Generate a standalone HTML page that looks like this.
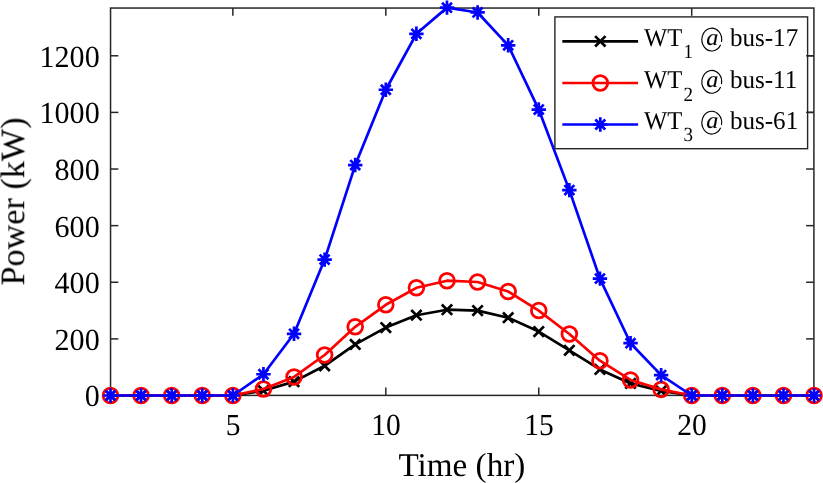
<!DOCTYPE html><html><head><meta charset="utf-8"><style>html,body{margin:0;padding:0;background:#fff;}svg{display:block;}text{font-family:"Liberation Serif",serif;fill:#000;text-rendering:geometricPrecision;}</style></head><body>
<svg width="823" height="483" viewBox="0 0 823 483">
<g stroke="#262626" stroke-width="1.5" fill="none">
<rect x="110.55" y="8.05" width="703.35" height="387.35"/>
<line x1="110.55" y1="395.50" x2="118.35" y2="395.50"/>
<line x1="813.9" y1="395.50" x2="806.10" y2="395.50"/>
<line x1="110.55" y1="338.88" x2="118.35" y2="338.88"/>
<line x1="813.9" y1="338.88" x2="806.10" y2="338.88"/>
<line x1="110.55" y1="282.26" x2="118.35" y2="282.26"/>
<line x1="813.9" y1="282.26" x2="806.10" y2="282.26"/>
<line x1="110.55" y1="225.64" x2="118.35" y2="225.64"/>
<line x1="813.9" y1="225.64" x2="806.10" y2="225.64"/>
<line x1="110.55" y1="169.02" x2="118.35" y2="169.02"/>
<line x1="813.9" y1="169.02" x2="806.10" y2="169.02"/>
<line x1="110.55" y1="112.40" x2="118.35" y2="112.40"/>
<line x1="813.9" y1="112.40" x2="806.10" y2="112.40"/>
<line x1="110.55" y1="55.78" x2="118.35" y2="55.78"/>
<line x1="813.9" y1="55.78" x2="806.10" y2="55.78"/>
<line x1="232.86" y1="395.4" x2="232.86" y2="387.60"/>
<line x1="232.86" y1="8.05" x2="232.86" y2="15.85"/>
<line x1="385.81" y1="395.4" x2="385.81" y2="387.60"/>
<line x1="385.81" y1="8.05" x2="385.81" y2="15.85"/>
<line x1="538.76" y1="395.4" x2="538.76" y2="387.60"/>
<line x1="538.76" y1="8.05" x2="538.76" y2="15.85"/>
<line x1="691.71" y1="395.4" x2="691.71" y2="387.60"/>
<line x1="691.71" y1="8.05" x2="691.71" y2="15.85"/>
</g>
<polyline points="110.50,395.50 141.09,395.50 171.68,395.50 202.27,395.50 232.86,395.50 263.45,390.69 294.04,381.63 324.63,365.77 355.22,344.40 385.81,327.61 416.40,315.21 446.99,309.72 477.58,310.57 508.17,317.70 538.76,331.60 569.35,350.29 599.94,369.45 630.53,383.41 661.12,390.97 691.71,395.50 722.30,395.50 752.89,395.50 783.48,395.50 814.07,395.50" fill="none" stroke="#000000" stroke-width="2.7" stroke-linejoin="round"/>
<g><path d="M105.30,390.30L115.70,400.70M105.30,400.70L115.70,390.30" stroke="#000000" stroke-width="2.7" fill="none"/><path d="M135.89,390.30L146.29,400.70M135.89,400.70L146.29,390.30" stroke="#000000" stroke-width="2.7" fill="none"/><path d="M166.48,390.30L176.88,400.70M166.48,400.70L176.88,390.30" stroke="#000000" stroke-width="2.7" fill="none"/><path d="M197.07,390.30L207.47,400.70M197.07,400.70L207.47,390.30" stroke="#000000" stroke-width="2.7" fill="none"/><path d="M227.66,390.30L238.06,400.70M227.66,400.70L238.06,390.30" stroke="#000000" stroke-width="2.7" fill="none"/><path d="M258.25,385.49L268.65,395.89M258.25,395.89L268.65,385.49" stroke="#000000" stroke-width="2.7" fill="none"/><path d="M288.84,376.43L299.24,386.83M288.84,386.83L299.24,376.43" stroke="#000000" stroke-width="2.7" fill="none"/><path d="M319.43,360.57L329.83,370.97M319.43,370.97L329.83,360.57" stroke="#000000" stroke-width="2.7" fill="none"/><path d="M350.02,339.20L360.42,349.60M350.02,349.60L360.42,339.20" stroke="#000000" stroke-width="2.7" fill="none"/><path d="M380.61,322.41L391.01,332.81M380.61,332.81L391.01,322.41" stroke="#000000" stroke-width="2.7" fill="none"/><path d="M411.20,310.01L421.60,320.41M411.20,320.41L421.60,310.01" stroke="#000000" stroke-width="2.7" fill="none"/><path d="M441.79,304.52L452.19,314.92M441.79,314.92L452.19,304.52" stroke="#000000" stroke-width="2.7" fill="none"/><path d="M472.38,305.37L482.78,315.77M472.38,315.77L482.78,305.37" stroke="#000000" stroke-width="2.7" fill="none"/><path d="M502.97,312.50L513.37,322.90M502.97,322.90L513.37,312.50" stroke="#000000" stroke-width="2.7" fill="none"/><path d="M533.56,326.40L543.96,336.80M533.56,336.80L543.96,326.40" stroke="#000000" stroke-width="2.7" fill="none"/><path d="M564.15,345.09L574.55,355.49M564.15,355.49L574.55,345.09" stroke="#000000" stroke-width="2.7" fill="none"/><path d="M594.74,364.25L605.14,374.65M594.74,374.65L605.14,364.25" stroke="#000000" stroke-width="2.7" fill="none"/><path d="M625.33,378.21L635.73,388.61M625.33,388.61L635.73,378.21" stroke="#000000" stroke-width="2.7" fill="none"/><path d="M655.92,385.77L666.32,396.17M655.92,396.17L666.32,385.77" stroke="#000000" stroke-width="2.7" fill="none"/><path d="M686.51,390.30L696.91,400.70M686.51,400.70L696.91,390.30" stroke="#000000" stroke-width="2.7" fill="none"/><path d="M717.10,390.30L727.50,400.70M717.10,400.70L727.50,390.30" stroke="#000000" stroke-width="2.7" fill="none"/><path d="M747.69,390.30L758.09,400.70M747.69,400.70L758.09,390.30" stroke="#000000" stroke-width="2.7" fill="none"/><path d="M778.28,390.30L788.68,400.70M778.28,400.70L788.68,390.30" stroke="#000000" stroke-width="2.7" fill="none"/><path d="M808.87,390.30L819.27,400.70M808.87,400.70L819.27,390.30" stroke="#000000" stroke-width="2.7" fill="none"/></g>
<polyline points="110.50,395.50 141.09,395.50 171.68,395.50 202.27,395.50 232.86,395.50 263.45,388.99 294.04,376.96 324.63,355.02 355.22,326.79 385.81,304.79 416.40,287.81 446.99,280.70 477.58,281.98 508.17,291.49 538.76,310.57 569.35,334.01 599.94,360.68 630.53,379.93 661.12,389.41 691.71,395.50 722.30,395.50 752.89,395.50 783.48,395.50 814.07,395.50" fill="none" stroke="#ff0000" stroke-width="2.7" stroke-linejoin="round"/>
<g><circle cx="110.50" cy="395.50" r="7.4" stroke="#ff0000" stroke-width="2.75" fill="none"/><circle cx="141.09" cy="395.50" r="7.4" stroke="#ff0000" stroke-width="2.75" fill="none"/><circle cx="171.68" cy="395.50" r="7.4" stroke="#ff0000" stroke-width="2.75" fill="none"/><circle cx="202.27" cy="395.50" r="7.4" stroke="#ff0000" stroke-width="2.75" fill="none"/><circle cx="232.86" cy="395.50" r="7.4" stroke="#ff0000" stroke-width="2.75" fill="none"/><circle cx="263.45" cy="388.99" r="7.4" stroke="#ff0000" stroke-width="2.75" fill="none"/><circle cx="294.04" cy="376.96" r="7.4" stroke="#ff0000" stroke-width="2.75" fill="none"/><circle cx="324.63" cy="355.02" r="7.4" stroke="#ff0000" stroke-width="2.75" fill="none"/><circle cx="355.22" cy="326.79" r="7.4" stroke="#ff0000" stroke-width="2.75" fill="none"/><circle cx="385.81" cy="304.79" r="7.4" stroke="#ff0000" stroke-width="2.75" fill="none"/><circle cx="416.40" cy="287.81" r="7.4" stroke="#ff0000" stroke-width="2.75" fill="none"/><circle cx="446.99" cy="280.70" r="7.4" stroke="#ff0000" stroke-width="2.75" fill="none"/><circle cx="477.58" cy="281.98" r="7.4" stroke="#ff0000" stroke-width="2.75" fill="none"/><circle cx="508.17" cy="291.49" r="7.4" stroke="#ff0000" stroke-width="2.75" fill="none"/><circle cx="538.76" cy="310.57" r="7.4" stroke="#ff0000" stroke-width="2.75" fill="none"/><circle cx="569.35" cy="334.01" r="7.4" stroke="#ff0000" stroke-width="2.75" fill="none"/><circle cx="599.94" cy="360.68" r="7.4" stroke="#ff0000" stroke-width="2.75" fill="none"/><circle cx="630.53" cy="379.93" r="7.4" stroke="#ff0000" stroke-width="2.75" fill="none"/><circle cx="661.12" cy="389.41" r="7.4" stroke="#ff0000" stroke-width="2.75" fill="none"/><circle cx="691.71" cy="395.50" r="7.4" stroke="#ff0000" stroke-width="2.75" fill="none"/><circle cx="722.30" cy="395.50" r="7.4" stroke="#ff0000" stroke-width="2.75" fill="none"/><circle cx="752.89" cy="395.50" r="7.4" stroke="#ff0000" stroke-width="2.75" fill="none"/><circle cx="783.48" cy="395.50" r="7.4" stroke="#ff0000" stroke-width="2.75" fill="none"/><circle cx="814.07" cy="395.50" r="7.4" stroke="#ff0000" stroke-width="2.75" fill="none"/></g>
<polyline points="110.50,395.50 141.09,395.50 171.68,395.50 202.27,395.50 232.86,395.50 263.45,374.27 294.04,333.78 324.63,259.61 355.22,165.06 385.81,89.75 416.40,33.81 446.99,7.65 477.58,12.47 508.17,45.31 538.76,109.57 569.35,190.11 599.94,278.58 630.53,343.21 661.12,375.12 691.71,395.50 722.30,395.50 752.89,395.50 783.48,395.50 814.07,395.50" fill="none" stroke="#0000ff" stroke-width="2.7" stroke-linejoin="round"/>
<g><path d="M103.30,395.50L117.70,395.50M110.50,388.30L110.50,402.70M105.55,390.55L115.45,400.45M105.55,400.45L115.45,390.55" stroke="#0000ff" stroke-width="2.7" fill="none"/><path d="M133.89,395.50L148.29,395.50M141.09,388.30L141.09,402.70M136.14,390.55L146.04,400.45M136.14,400.45L146.04,390.55" stroke="#0000ff" stroke-width="2.7" fill="none"/><path d="M164.48,395.50L178.88,395.50M171.68,388.30L171.68,402.70M166.73,390.55L176.63,400.45M166.73,400.45L176.63,390.55" stroke="#0000ff" stroke-width="2.7" fill="none"/><path d="M195.07,395.50L209.47,395.50M202.27,388.30L202.27,402.70M197.32,390.55L207.22,400.45M197.32,400.45L207.22,390.55" stroke="#0000ff" stroke-width="2.7" fill="none"/><path d="M225.66,395.50L240.06,395.50M232.86,388.30L232.86,402.70M227.91,390.55L237.81,400.45M227.91,400.45L237.81,390.55" stroke="#0000ff" stroke-width="2.7" fill="none"/><path d="M256.25,374.27L270.65,374.27M263.45,367.07L263.45,381.47M258.50,369.32L268.40,379.22M258.50,379.22L268.40,369.32" stroke="#0000ff" stroke-width="2.7" fill="none"/><path d="M286.84,333.78L301.24,333.78M294.04,326.58L294.04,340.98M289.09,328.83L298.99,338.73M289.09,338.73L298.99,328.83" stroke="#0000ff" stroke-width="2.7" fill="none"/><path d="M317.43,259.61L331.83,259.61M324.63,252.41L324.63,266.81M319.68,254.66L329.58,264.56M319.68,264.56L329.58,254.66" stroke="#0000ff" stroke-width="2.7" fill="none"/><path d="M348.02,165.06L362.42,165.06M355.22,157.86L355.22,172.26M350.27,160.11L360.17,170.01M350.27,170.01L360.17,160.11" stroke="#0000ff" stroke-width="2.7" fill="none"/><path d="M378.61,89.75L393.01,89.75M385.81,82.55L385.81,96.95M380.86,84.80L390.76,94.70M380.86,94.70L390.76,84.80" stroke="#0000ff" stroke-width="2.7" fill="none"/><path d="M409.20,33.81L423.60,33.81M416.40,26.61L416.40,41.01M411.45,28.86L421.35,38.76M411.45,38.76L421.35,28.86" stroke="#0000ff" stroke-width="2.7" fill="none"/><path d="M439.79,7.65L454.19,7.65M446.99,0.45L446.99,14.85M442.04,2.70L451.94,12.60M442.04,12.60L451.94,2.70" stroke="#0000ff" stroke-width="2.7" fill="none"/><path d="M470.38,12.47L484.78,12.47M477.58,5.27L477.58,19.67M472.63,7.52L482.53,17.42M472.63,17.42L482.53,7.52" stroke="#0000ff" stroke-width="2.7" fill="none"/><path d="M500.97,45.31L515.37,45.31M508.17,38.11L508.17,52.51M503.22,40.36L513.12,50.25M503.22,50.25L513.12,40.36" stroke="#0000ff" stroke-width="2.7" fill="none"/><path d="M531.56,109.57L545.96,109.57M538.76,102.37L538.76,116.77M533.81,104.62L543.71,114.52M533.81,114.52L543.71,104.62" stroke="#0000ff" stroke-width="2.7" fill="none"/><path d="M562.15,190.11L576.55,190.11M569.35,182.91L569.35,197.31M564.40,185.16L574.30,195.06M564.40,195.06L574.30,185.16" stroke="#0000ff" stroke-width="2.7" fill="none"/><path d="M592.74,278.58L607.14,278.58M599.94,271.38L599.94,285.78M594.99,273.63L604.89,283.53M594.99,283.53L604.89,273.63" stroke="#0000ff" stroke-width="2.7" fill="none"/><path d="M623.33,343.21L637.73,343.21M630.53,336.01L630.53,350.41M625.58,338.26L635.48,348.16M625.58,348.16L635.48,338.26" stroke="#0000ff" stroke-width="2.7" fill="none"/><path d="M653.92,375.12L668.32,375.12M661.12,367.92L661.12,382.32M656.17,370.17L666.07,380.07M656.17,380.07L666.07,370.17" stroke="#0000ff" stroke-width="2.7" fill="none"/><path d="M684.51,395.50L698.91,395.50M691.71,388.30L691.71,402.70M686.76,390.55L696.66,400.45M686.76,400.45L696.66,390.55" stroke="#0000ff" stroke-width="2.7" fill="none"/><path d="M715.10,395.50L729.50,395.50M722.30,388.30L722.30,402.70M717.35,390.55L727.25,400.45M717.35,400.45L727.25,390.55" stroke="#0000ff" stroke-width="2.7" fill="none"/><path d="M745.69,395.50L760.09,395.50M752.89,388.30L752.89,402.70M747.94,390.55L757.84,400.45M747.94,400.45L757.84,390.55" stroke="#0000ff" stroke-width="2.7" fill="none"/><path d="M776.28,395.50L790.68,395.50M783.48,388.30L783.48,402.70M778.53,390.55L788.43,400.45M778.53,400.45L788.43,390.55" stroke="#0000ff" stroke-width="2.7" fill="none"/><path d="M806.87,395.50L821.27,395.50M814.07,388.30L814.07,402.70M809.12,390.55L819.02,400.45M809.12,400.45L819.02,390.55" stroke="#0000ff" stroke-width="2.7" fill="none"/></g>
<rect x="554.9" y="16.9" width="252.7" height="131.8" fill="#fff" stroke="#262626" stroke-width="1.4"/>
<line x1="813.9" y1="112.40" x2="806.10" y2="112.40" stroke="#262626" stroke-width="1.5"/>
<line x1="813.9" y1="55.78" x2="806.10" y2="55.78" stroke="#262626" stroke-width="1.5"/>
<line x1="562.3" y1="41.35" x2="638.1" y2="41.35" stroke="#000000" stroke-width="2.7"/>
<path d="M595.10,36.15L605.50,46.55M595.10,46.55L605.50,36.15" stroke="#000000" stroke-width="2.7" fill="none"/>
<line x1="562.3" y1="83.0" x2="638.1" y2="83.0" stroke="#ff0000" stroke-width="2.7"/>
<circle cx="600.30" cy="83.00" r="7.4" stroke="#ff0000" stroke-width="2.75" fill="none"/>
<line x1="562.3" y1="124.5" x2="638.1" y2="124.5" stroke="#0000ff" stroke-width="2.7"/>
<path d="M593.10,124.50L607.50,124.50M600.30,117.30L600.30,131.70M595.35,119.55L605.25,129.45M595.35,129.45L605.25,119.55" stroke="#0000ff" stroke-width="2.7" fill="none"/>
<defs><filter id="g" x="0" y="0" width="1" height="1"><feColorMatrix type="saturate" values="0"/></filter></defs>
<g filter="url(#g)">
<text transform="translate(99.7,406.40) scale(1.02,1.04)" font-size="29.5" text-anchor="end">0</text>
<text transform="translate(99.7,349.78) scale(1.02,1.04)" font-size="29.5" text-anchor="end">200</text>
<text transform="translate(99.7,293.16) scale(1.02,1.04)" font-size="29.5" text-anchor="end">400</text>
<text transform="translate(99.7,236.54) scale(1.02,1.04)" font-size="29.5" text-anchor="end">600</text>
<text transform="translate(99.7,179.92) scale(1.02,1.04)" font-size="29.5" text-anchor="end">800</text>
<text transform="translate(99.7,123.30) scale(1.02,1.04)" font-size="29.5" text-anchor="end">1000</text>
<text transform="translate(99.7,66.68) scale(1.02,1.04)" font-size="29.5" text-anchor="end">1200</text>
<text transform="translate(233.16,434.9) scale(1,1.04)" font-size="29.5" text-anchor="middle">5</text>
<text transform="translate(386.11,434.9) scale(1,1.04)" font-size="29.5" text-anchor="middle">10</text>
<text transform="translate(539.06,434.9) scale(1,1.04)" font-size="29.5" text-anchor="middle">15</text>
<text transform="translate(692.01,434.9) scale(1,1.04)" font-size="29.5" text-anchor="middle">20</text>
<text x="461.9" y="476.2" font-size="33.2" text-anchor="middle">Time (hr)</text>
<text transform="translate(24.2,201.5) rotate(-90)" x="0" y="0" font-size="34.2" text-anchor="middle">Power (kW)</text>
<text transform="translate(644.1,45.95) scale(1.025,1.07)" font-size="24">WT</text>
<text transform="translate(683.5,58.35) scale(1,1.06)" font-size="19">1</text>
<path d="M721.48,41.97A9.9,11.4 0 1 0 720.62,44.78" fill="none" stroke="#000" stroke-width="1.15"/>
<text transform="translate(706.3,44.95) scale(1.05,1)" font-size="23" font-style="italic" stroke="#000" stroke-width="0.1">a</text>
<text transform="translate(729.9,45.95) scale(1.045,1.07)" font-size="24">bus-17</text>
<text transform="translate(644.1,88.20) scale(1.025,1.07)" font-size="24">WT</text>
<text transform="translate(683.5,100.60) scale(1,1.06)" font-size="19">2</text>
<path d="M721.48,84.22A9.9,11.4 0 1 0 720.62,87.03" fill="none" stroke="#000" stroke-width="1.15"/>
<text transform="translate(706.3,87.20) scale(1.05,1)" font-size="23" font-style="italic" stroke="#000" stroke-width="0.1">a</text>
<text transform="translate(729.9,88.20) scale(1.045,1.07)" font-size="24">bus-11</text>
<text transform="translate(644.1,129.00) scale(1.025,1.07)" font-size="24">WT</text>
<text transform="translate(683.5,141.40) scale(1,1.06)" font-size="19">3</text>
<path d="M721.48,125.02A9.9,11.4 0 1 0 720.62,127.83" fill="none" stroke="#000" stroke-width="1.15"/>
<text transform="translate(706.3,128.00) scale(1.05,1)" font-size="23" font-style="italic" stroke="#000" stroke-width="0.1">a</text>
<text transform="translate(729.9,129.00) scale(1.045,1.07)" font-size="24">bus-61</text>
</g>
</svg></body></html>
